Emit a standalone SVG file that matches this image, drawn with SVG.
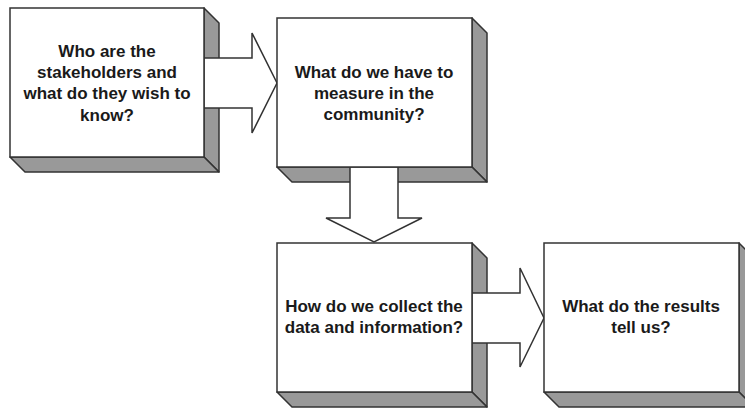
<svg xmlns="http://www.w3.org/2000/svg" width="745" height="410" viewBox="0 0 745 410">
<style>
.side{fill:#999999;stroke:#333333;stroke-width:1.5;stroke-linejoin:round}
.face{fill:#ffffff;stroke:#333333;stroke-width:1.5}
.arrow{fill:#ffffff;stroke:#333333;stroke-width:1.5;stroke-linejoin:miter}
.label{font-family:"Liberation Sans",Arial,sans-serif;font-weight:bold;font-size:17px;fill:#1a1a1a;text-anchor:middle}
</style>
<rect width="745" height="410" fill="#ffffff"/>
<g id="box1-sides">
<polygon class="side" points="204,8 219,23 219,172 204,157"/>
<polygon class="side" points="10,157 25,172 219,172 204,157"/>
</g>
<g id="box2-sides">
<polygon class="side" points="472,18 487,33 487,182 472,167"/>
<polygon class="side" points="277,167 292,182 487,182 472,167"/>
</g>
<g id="box3-sides">
<polygon class="side" points="472,243 487,258 487,407 472,392"/>
<polygon class="side" points="277,392 292,407 487,407 472,392"/>
</g>
<g id="box4-sides">
<polygon class="side" points="739,243 754,258 754,407 739,392"/>
<polygon class="side" points="544,392 559,407 754,407 739,392"/>
</g>
<g id="connectors">
<polygon class="arrow" points="204,58 252,58 252,33 277,83 252,133 252,108 204,108"/>
<polygon class="arrow" points="350,167 350,218 326,218 374,242 422,218 398,218 398,167"/>
<polygon class="arrow" points="472,293 520,293 520,268 544,318 520,367 520,343 472,343"/>
</g>
<g id="node1">
<rect class="face" x="10" y="8" width="194" height="149"/>
<text class="label" x="107" y="57">Who are the</text>
<text class="label" x="107" y="78">stakeholders and</text>
<text class="label" x="107" y="99">what do they wish to</text>
<text class="label" x="107" y="121">know?</text>
</g>
<g id="node2">
<rect class="face" x="277" y="18" width="195" height="149"/>
<text class="label" x="374" y="78">What do we have to</text>
<text class="label" x="374" y="99">measure in the</text>
<text class="label" x="374" y="120">community?</text>
</g>
<g id="node3">
<rect class="face" x="277" y="243" width="195" height="149"/>
<text class="label" x="374" y="312">How do we collect the</text>
<text class="label" x="374" y="333">data and information?</text>
</g>
<g id="node4">
<rect class="face" x="544" y="243" width="195" height="149"/>
<text class="label" x="641" y="312">What do the results</text>
<text class="label" x="641" y="333">tell us?</text>
</g>
</svg>
